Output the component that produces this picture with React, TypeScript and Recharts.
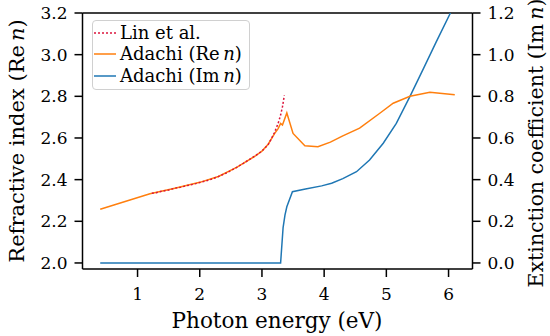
import React from 'react';
import { LineChart, Line, XAxis, YAxis, Legend, ReferenceLine } from 'recharts';

// Adachi model, real part
const reEnergy = [0.4, 0.8, 1.2, 1.6, 2.0, 2.3, 2.6, 2.9, 3.0, 3.1, 3.2, 3.26, 3.3, 3.33, 3.4, 3.5, 3.69, 3.9, 4.1, 4.3, 4.57, 4.9, 5.11, 5.38, 5.7, 6.1];
const reValues = [2.258, 2.295, 2.332, 2.359, 2.387, 2.415, 2.46, 2.515, 2.537, 2.57, 2.62, 2.645, 2.67, 2.662, 2.72, 2.622, 2.563, 2.558, 2.58, 2.61, 2.647, 2.72, 2.767, 2.8, 2.82, 2.807];

// Adachi model, imaginary part (right axis)
const imEnergy = [0.4, 3.3, 3.34, 3.37, 3.4, 3.49, 3.7, 3.96, 4.12, 4.3, 4.52, 4.73, 4.95, 5.16, 5.38, 5.6, 5.8, 6.03, 6.1];
const imValues = [0, 0, 0.17, 0.23, 0.27, 0.342, 0.355, 0.37, 0.383, 0.405, 0.438, 0.494, 0.575, 0.67, 0.8, 0.935, 1.06, 1.2, 1.245];

// Lin et al. measurement
const linEnergy = [1.23, 1.3, 1.4, 1.5, 1.6, 1.7, 1.8, 1.9, 2.0, 2.1, 2.2, 2.3, 2.4, 2.5, 2.6, 2.7, 2.8, 2.9, 3.0, 3.1, 3.2, 3.26, 3.3, 3.33, 3.36];
const linValues = [2.335, 2.337, 2.345, 2.35, 2.359, 2.364, 2.372, 2.378, 2.386, 2.394, 2.403, 2.415, 2.428, 2.443, 2.46, 2.478, 2.497, 2.516, 2.537, 2.568, 2.625, 2.67, 2.71, 2.75, 2.805];

const xTicks = [1, 2, 3, 4, 5, 6];
const leftTicks = [2.0, 2.2, 2.4, 2.6, 2.8, 3.0, 3.2];
const rightTicks = [0.0, 0.2, 0.4, 0.6, 0.8, 1.0, 1.2];

const FONT = '"DejaVu Serif", serif';

const reData = reEnergy.map((e, i) => ({ e, v: reValues[i] }));
const imData = imEnergy.map((e, i) => ({ e, v: imValues[i] }));
const linData = linEnergy.map((e, i) => ({ e, v: linValues[i] }));

const legendItems = [
    { name: 'Lin et al.', color: '#dc143c', dash: '2 2', part: '' },
    { name: 'Adachi (', color: '#ff7f0e', dash: undefined, part: 'Re' },
    { name: 'Adachi (', color: '#1f77b4', dash: undefined, part: 'Im' },
];

function ChartLegend() {
    return (
        <div
            style={{
                width: 158,
                height: 70,
                border: '1px solid #d0d0d0',
                borderRadius: 4,
                background: 'rgba(255,255,255,0.8)',
                fontFamily: FONT,
                fontSize: 18,
                color: '#000',
                boxSizing: 'border-box',
                paddingTop: 1,
            }}
        >
            {legendItems.map((item) => (
                <div key={item.color} style={{ display: 'flex', alignItems: 'center', height: 21.5 }}>
                    <svg width={26} height={10} style={{ marginLeft: 1 }}>
                        <line x1={0} y1={5} x2={22} y2={5} stroke={item.color} strokeWidth={1.5} strokeDasharray={item.dash} />
                    </svg>
                    <span style={{ whiteSpace: 'nowrap', lineHeight: '20px' }}>
                        {item.part ? (
                            <>
                                {item.name}
                                {item.part}
                                {'\u2009'}
                                <i>n</i>)
                            </>
                        ) : (
                            item.name
                        )}
                    </span>
                </div>
            ))}
        </div>
    );
}

const tickStyle = { fill: '#000', fontSize: 17, fontFamily: FONT };

export default function App() {
    return (
        <div style={{ position: 'absolute', left: 0, top: 0, background: '#fff' }}>
            <LineChart width={550} height={336} margin={{ top: 13, right: 0, bottom: 0, left: 0 }}>
                <XAxis
                    dataKey="e"
                    type="number"
                    domain={[0.115, 6.385]}
                    ticks={xTicks}
                    allowDataOverflow
                    height={67}
                    stroke="#000"
                    strokeWidth={1.5}
                    tickSize={8}
                    tickMargin={11}
                    tick={tickStyle}
                    label={{
                        content: () => (
                            <text x={277} y={320} textAnchor="middle" dominantBaseline="central" fontFamily={FONT} fontSize={21.5} fill="#000">
                                Photon energy (eV)
                            </text>
                        ),
                    }}
                />
                <YAxis
                    yAxisId="left"
                    type="number"
                    domain={[1.971, 3.2]}
                    ticks={leftTicks}
                    allowDataOverflow
                    width={82.5}
                    stroke="#000"
                    strokeWidth={1.5}
                    tickSize={8}
                    tickMargin={7}
                    tick={tickStyle}
                    tickFormatter={(v: number) => v.toFixed(1)}
                    label={{
                        content: () => (
                            <text x={17} y={141} transform="rotate(-90 17 141)" textAnchor="middle" dominantBaseline="central" fontFamily={FONT} fontSize={21} fill="#000">
                                Refractive index (Re<tspan fontStyle="italic" dx={4}>n</tspan>)
                            </text>
                        ),
                    }}
                />
                <YAxis
                    yAxisId="right"
                    orientation="right"
                    type="number"
                    domain={[-0.029, 1.2]}
                    ticks={rightTicks}
                    allowDataOverflow
                    width={77.5}
                    stroke="#000"
                    strokeWidth={1.5}
                    tickSize={8}
                    tickMargin={7}
                    tick={tickStyle}
                    tickFormatter={(v: number) => v.toFixed(1)}
                    label={{
                        content: () => (
                            <text x={536} y={143} transform="rotate(-90 536 143)" textAnchor="middle" dominantBaseline="central" fontFamily={FONT} fontSize={20.5} fill="#000">
                                Extinction coefficient (Im<tspan fontStyle="italic" dx={4}>n</tspan>)
                            </text>
                        ),
                    }}
                />
                <ReferenceLine yAxisId="left" y={3.2} stroke="#000" strokeWidth={1.5} />
                <Line
                    yAxisId="right"
                    data={imData}
                    dataKey="v"
                    stroke="#1f77b4"
                    strokeWidth={1.5}
                    dot={false}
                    isAnimationActive={false}
                />
                <Line
                    yAxisId="left"
                    data={reData}
                    dataKey="v"
                    stroke="#ff7f0e"
                    strokeWidth={1.5}
                    dot={false}
                    isAnimationActive={false}
                />
                <Line
                    yAxisId="left"
                    data={linData}
                    dataKey="v"
                    stroke="#dc143c"
                    strokeWidth={1.5}
                    strokeDasharray="2 2"
                    dot={false}
                    isAnimationActive={false}
                />
                <Legend
                    layout="vertical"
                    align="center"
                    verticalAlign="middle"
                    content={() => <ChartLegend />}
                    wrapperStyle={{ position: 'absolute', left: 92, top: 20, width: 160, height: 72 }}
                />
            </LineChart>
        </div>
    );
}
